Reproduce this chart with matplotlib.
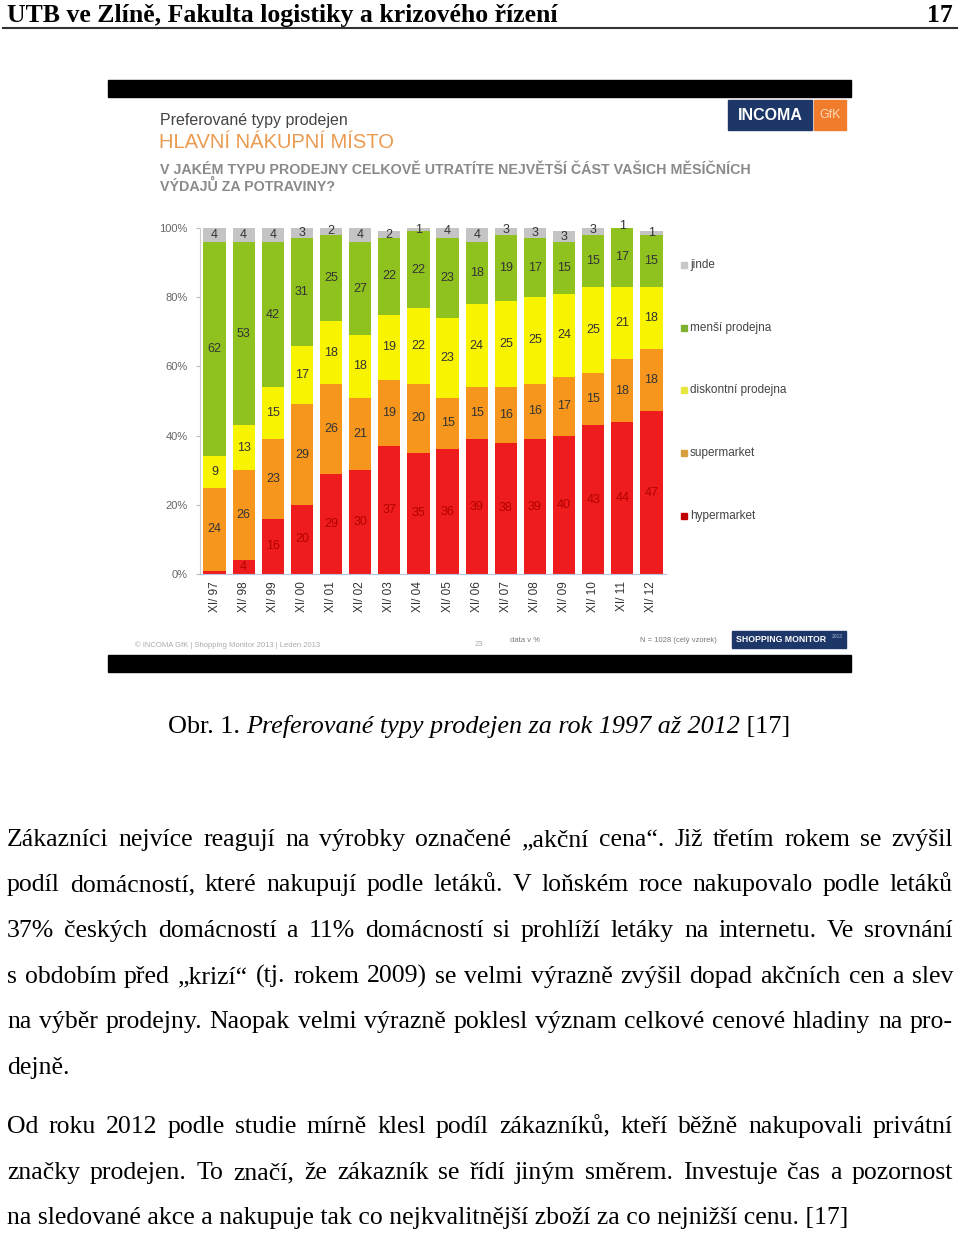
import matplotlib
matplotlib.use('Agg')
import matplotlib.pyplot as plt
import numpy as np
from matplotlib.patches import Rectangle

# data (shares in %)
years = ['XI/ 97', 'XI/ 98', 'XI/ 99', 'XI/ 00', 'XI/ 01', 'XI/ 02', 'XI/ 03', 'XI/ 04',
         'XI/ 05', 'XI/ 06', 'XI/ 07', 'XI/ 08', 'XI/ 09', 'XI/ 10', 'XI/ 11', 'XI/ 12']
hypermarket = [1, 4, 16, 20, 29, 30, 37, 35, 36, 39, 38, 39, 40, 43, 44, 47]
supermarket = [24, 26, 23, 29, 26, 21, 19, 20, 15, 15, 16, 16, 17, 15, 18, 18]
diskontni = [9, 13, 15, 17, 18, 18, 19, 22, 23, 24, 25, 25, 24, 25, 21, 18]
mensi = [62, 53, 42, 31, 25, 27, 22, 22, 23, 18, 19, 17, 15, 15, 17, 15]
jinde = [4, 4, 4, 3, 2, 4, 2, 1, 4, 4, 3, 3, 3, 3, 1, 1]
series_names = ['hypermarket', 'supermarket', 'diskontní prodejna', 'menší prodejna', 'jinde']
series_colors = ['#ee1c1c', '#f7961c', '#f8f400', '#8fc21f', '#c4c4c4']

header = 'UTB ve Zlíně, Fakulta logistiky a krizového řízení'
caption = ['Obr. 1. ', 'Preferované typy prodejen za rok 1997 až 2012', ' [17]']
body = [
    ('Zákazníci nejvíce reagují na výrobky označené „akční cena“. Již třetím rokem se zvýšil', True),
    ('podíl domácností, které nakupují podle letáků. V loňském roce nakupovalo podle letáků', True),
    ('37% českých domácností a 11% domácností si prohlíží letáky na internetu. Ve srovnání', True),
    ('s obdobím před „krizí“ (tj. rokem 2009) se velmi výrazně zvýšil dopad akčních cen a slev', True),
    ('na výběr prodejny. Naopak velmi výrazně poklesl význam celkové cenové hladiny na pro-', True),
    ('dejně.', False),
    ('Od roku 2012 podle studie mírně klesl podíl zákazníků, kteří běžně nakupovali privátní', True),
    ('značky prodejen. To značí, že zákazník se řídí jiným směrem. Investuje čas a pozornost', True),
    ('na sledované akce a nakupuje tak co nejkvalitnější zboží za co nejnižší cenu. [17]', False),
]
body_y = [838, 883, 929, 975, 1020, 1066, 1125, 1171, 1216]

serif = 'Liberation Serif'
sans = ['Liberation Sans', 'DejaVu Sans']

fig = plt.figure(figsize=(9.6, 12.33), dpi=100)
page = fig.add_axes([0, 0, 1, 1])
page.set_xlim(0, 960)
page.set_ylim(1233, 0)
page.axis('off')
r = fig.canvas.get_renderer()


def text_width(s, **kw):
    t = page.text(0, 0, s, **kw)
    w = t.get_window_extent(r).width
    t.remove()
    return w


# header
hs = 20 * 551 / text_width(header, family=serif, weight='bold', size=20)
page.text(7, 22, header, family=serif, weight='bold', size=hs, va='baseline', color='black')
page.text(953, 22, '17', family=serif, weight='bold', size=hs, va='baseline', ha='right', color='black')
page.plot([3, 957], [28, 28], color='#333333', lw=1.5)

# body text, justified
fs = 18 * 842 / text_width(body[-1][0], family=serif, size=18)
for (line, just), y in zip(body, body_y):
    if not just:
        page.text(7, y + 8, line, family=serif, size=fs, va='baseline', color='black')
        continue
    words = line.split(' ')
    ws = [text_width(w, family=serif, size=fs) for w in words]
    gap = (953 - 7 - sum(ws)) / (len(words) - 1)
    x = 7
    for w, wd in zip(words, ws):
        page.text(x, y + 8, w, family=serif, size=fs, va='baseline', color='black')
        x += wd + gap

# caption with italic middle part
styles = ['normal', 'italic', 'normal']
cw = [text_width(c, family=serif, size=18, style=s) for c, s in zip(caption, styles)]
cs = 18 * 622 / sum(cw)
x = 168
for c, s in zip(caption, styles):
    t = page.text(x, 733, c, family=serif, size=cs, style=s, va='baseline', color='black')
    x += t.get_window_extent(r).width

# slide frame
page.add_patch(Rectangle((108, 80), 743, 17, color='black'))
page.add_patch(Rectangle((108, 655), 743, 17, color='black'))

page.text(160, 121, 'Preferované typy prodejen', family=sans, size=11.5, color='#444444', va='center')
page.text(159, 143, 'HLAVNÍ NÁKUPNÍ MÍSTO', family=sans, size=14.5, color='#eb9b50', va='center')
page.text(160, 170, 'V JAKÉM TYPU PRODEJNY CELKOVĚ UTRATÍTE NEJVĚTŠÍ ČÁST VAŠICH MĚSÍČNÍCH',
          family=sans, size=10.3, color='#8a8a8a', weight='bold', va='center')
page.text(160, 186, 'VÝDAJŮ ZA POTRAVINY?', family=sans, size=10.3, color='#8a8a8a', weight='bold', va='center')

# logos
page.add_patch(Rectangle((728, 100), 84, 30, color='#1d3768'))
page.add_patch(Rectangle((814, 100), 32, 30, color='#f07c2c'))
page.text(770, 115, 'INCOMA', family=sans, size=11.5, weight='bold', color='white', ha='center', va='center')
page.text(830, 115, 'GfK', family=sans, size=9, color='#ffd9b8', ha='center', va='center')
page.add_patch(Rectangle((732, 631), 114, 17, color='#1d3768'))
page.text(736, 640, 'SHOPPING MONITOR', family=sans, size=6.3, weight='bold', color='white', va='center')
page.text(832, 636, '2013', family=sans, size=3.5, color='#aab8d8', va='center')

page.text(135, 645, '© INCOMA GfK | Shopping Monitor 2013 | Leden 2013', family=sans, size=5.5,
          color='#aaaaaa', va='center')
page.text(475, 645, '23', family=sans, size=5.5, color='#aaaaaa', va='center')
page.text(510, 640, 'data v %', family=sans, size=5.5, color='#777777', va='center')
page.text(640, 640, 'N = 1028 (celý vzorek)', family=sans, size=5.5, color='#777777', va='center')

# legend
legend_y = [516, 453, 390, 328, 265]
legend_sq = ['#c00000', '#d9a040', '#e6e640', '#7fb030', '#c8c8c8']
for name, col, y in zip(series_names, legend_sq, legend_y):
    page.add_patch(Rectangle((681, y - 3), 6, 6, color=col))
    page.text(690, y, name, family=sans, size=8.5, color='#444444', va='center')

# bar chart
ax = fig.add_axes([200 / 960, 1 - 574 / 1233, 466 / 960, 346 / 1233])
xpos = np.arange(len(years))
bottom = np.zeros(len(years))
series = [hypermarket, supermarket, diskontni, mensi, jinde]
for name, vals, col in zip(series_names, series, series_colors):
    vals = np.array(vals)
    ax.bar(xpos, vals, 0.76, bottom=bottom, color=col, linewidth=0)
    for i, v in enumerate(vals):
        if v > 1 or name == 'jinde':
            tc = '#b30000' if name == 'hypermarket' else '#333333'
            ax.text(xpos[i], bottom[i] + v / 2, str(v), ha='center', va='center',
                    family=sans, size=9, color=tc)
    bottom += vals

ax.set_xlim(-0.5, 15.5)
ax.set_ylim(0, 100)
ax.set_yticks([0, 20, 40, 60, 80, 100])
ax.set_yticklabels(['0%', '20%', '40%', '60%', '80%', '100%'], family=sans, size=8, color='#666666')
ax.set_xticks(xpos)
ax.set_xticklabels(years, rotation=90, family=sans, size=8.5, color='#333333')
ax.tick_params(axis='y', length=3, color='#bbbbbb', pad=6)
ax.tick_params(axis='x', length=0, pad=5)
for s in ['top', 'right']:
    ax.spines[s].set_visible(False)
ax.spines['left'].set_color('#cccccc')
ax.spines['bottom'].set_color('#b8c4e0')
ax.patch.set_alpha(0)

fig.savefig('out.png', dpi=100)
